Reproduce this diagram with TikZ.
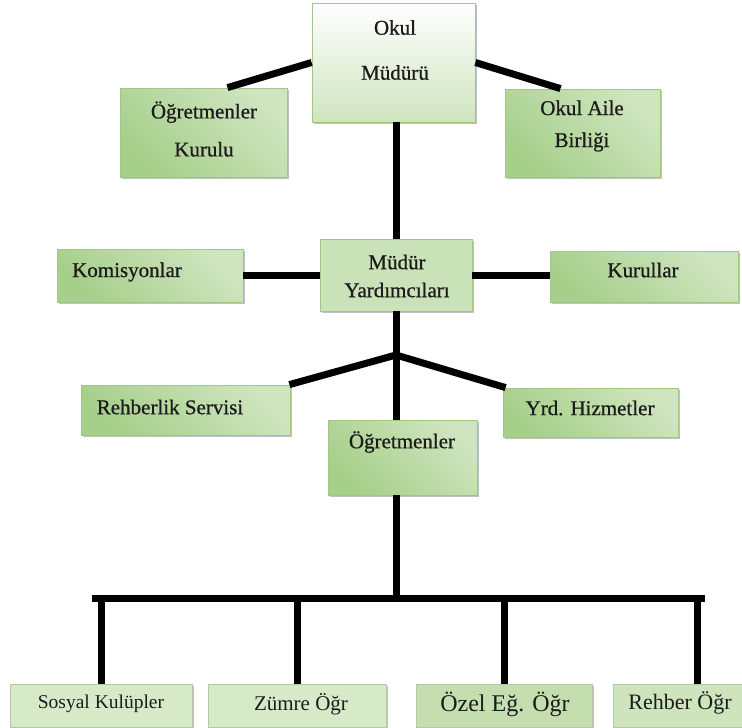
\documentclass[tikz,border=0pt]{standalone}
\usepackage{fontspec}
\setmainfont{Liberation Serif}
\newfontfamily\upfont[FakeBold=0.7]{Liberation Serif}
\newfontfamily\lowfont{Liberation Serif}
\usetikzlibrary{shadows,calc}
\definecolor{gDark}{HTML}{A6CF8A}
\definecolor{gLight}{HTML}{EEF6E8}
\definecolor{gMid}{HTML}{CFE5BF}
\definecolor{gBorder}{HTML}{A0C787}
\definecolor{gFlat}{HTML}{C9E2B7}
\definecolor{gBot}{HTML}{D6EAC8}
\definecolor{gBotB}{HTML}{C4DEB0}
\definecolor{gBotC}{HTML}{CDE4BC}
\definecolor{txt}{HTML}{1C1C1C}
\tikzset{
  box/.style={draw=gBorder, line width=0.8pt, inner sep=0pt,
    drop shadow={shadow xshift=1.6pt, shadow yshift=-1.8pt, opacity=0.35, fill=black!70}},
  gbox/.style={box, top color=gMid, middle color=gLight, bottom color=gDark, shading angle=-45},
  topbox/.style={box, top color=white, bottom color=gMid, shading angle=0},
  flatbox/.style={box, fill=gFlat},
  botbox/.style={box, fill=gBot, draw=gBot!85!black, drop shadow={shadow xshift=1pt, shadow yshift=-1pt, opacity=0.25, fill=black!60}},
  lbl/.style={text=txt, inner sep=0pt, align=center, font=\upfont\fontsize{21}{38}\selectfont},
  lowlbl/.style={text=txt, inner sep=0pt, align=center},
  conn/.style={line width=7pt, black, line join=miter},
}
\begin{document}
\begin{tikzpicture}[x=1pt,y=-1pt]
\useasboundingbox (0,0) rectangle (742,728);
\clip (0,0) rectangle (742,728);
% boxes
\node[topbox, minimum width=163pt, minimum height=119pt] (mud) at (393.5,62.5) {};
\node[gbox, minimum width=167pt, minimum height=89pt] (kur) at (203.5,132.5) {};
\node[gbox, minimum width=155pt, minimum height=88pt] (oab) at (582.5,133) {};
\node[gbox, minimum width=186pt, minimum height=53pt] (kom) at (150,275.5) {};
\node[flatbox, minimum width=152pt, minimum height=72pt] (myr) at (396,275) {};
\node[gbox, minimum width=188pt, minimum height=51pt] (kurl) at (644,276.5) {};
\node[gbox, minimum width=209pt, minimum height=50pt] (reh) at (185.5,410) {};
\node[gbox, minimum width=175pt, minimum height=49pt] (yrd) at (590.5,412.5) {};
\node[gbox, minimum width=149pt, minimum height=75pt] (ogr) at (402.5,457.5) {};
\node[botbox, minimum width=182pt, minimum height=43pt] (sos) at (101,705.5) {};
\node[botbox, minimum width=178pt, minimum height=43pt] (zum) at (297,705.5) {};
\node[botbox, fill=gBotB, minimum width=176pt, minimum height=43pt] (oz) at (504,705.5) {};
\node[botbox, fill=gBotC, minimum width=168pt, minimum height=43pt] (reb) at (697,705.5) {};
% texts
\node[lbl, font=\upfont\fontsize{21}{45}\selectfont] (tmud) at (395,50) {Okul\\Müdürü};
\node[lbl] (tkur) at (204,129) {Öğretmenler\\Kurulu};
\node[lbl, font=\upfont\fontsize{21}{32}\selectfont] (toab) at (582,126) {Okul Aile\\Birliği};
\node[lbl] (tkom) at (127,272) {Komisyonlar};
\node[lbl, font=\upfont\fontsize{21}{28}\selectfont] (tmyr) at (397,276) {Müdür\\Yardımcıları};
\node[lbl] (tkurl) at (643,270) {Kurullar};
\node[lbl] (treh) at (170,407) {Rehberlik Servisi};
\node[lbl] (tyrd) at (590,408) {Yrd. Hizmetler};
\node[lbl] (togr) at (402,442) {Öğretmenler};
\node[lowlbl, font=\lowfont\fontsize{19.5}{22}\selectfont] (tsos) at (101,704) {Sosyal Kulüpler};
\node[lowlbl, font=\lowfont\fontsize{21}{24}\selectfont] (tzum) at (301,704) {Zümre Öğr};
\node[lowlbl, font=\lowfont\fontsize{24}{27}\selectfont] (toz) at (505,704) {Özel Eğ. Öğr};
\node[lowlbl, font=\lowfont\fontsize{22}{25}\selectfont] (treb) at (680,703) {Rehber Öğr};
% connector points
\coordinate (J) at (396,355);
\coordinate (bar) at (0,598);
\coordinate (barL) at (95,598);
\coordinate (barR) at (701,598);
% connectors
\draw[conn] (mud.west) -- ([xshift=24pt]kur.north);
\draw[conn] (mud.east) -- ([xshift=-22pt]oab.north);
\draw[conn] (mud.south -| J) -- (myr.north -| J);
\draw[conn] (kom.east) -- (kom.east -| myr.west);
\draw[conn] (myr.east) -- (myr.east -| kurl.west);
\draw[conn] (myr.south -| J) -- (J);
\draw[conn] (J) -- ([xshift=-1pt]reh.north east);
\draw[conn] (J) -- ([xshift=3pt]yrd.north west);
\draw[conn] (J) -- (J |- ogr.north);
\draw[conn] (J |- ogr.south) -- (J |- bar);
\draw[conn, line cap=rect] (barL) -- (barR);
\draw[conn] (sos.north |- bar) -- (sos.north);
\draw[conn] (zum.north |- bar) -- (zum.north);
\draw[conn] (oz.north |- bar) -- (oz.north);
\draw[conn] (reb.north |- bar) -- (reb.north);
\end{tikzpicture}
\end{document}
